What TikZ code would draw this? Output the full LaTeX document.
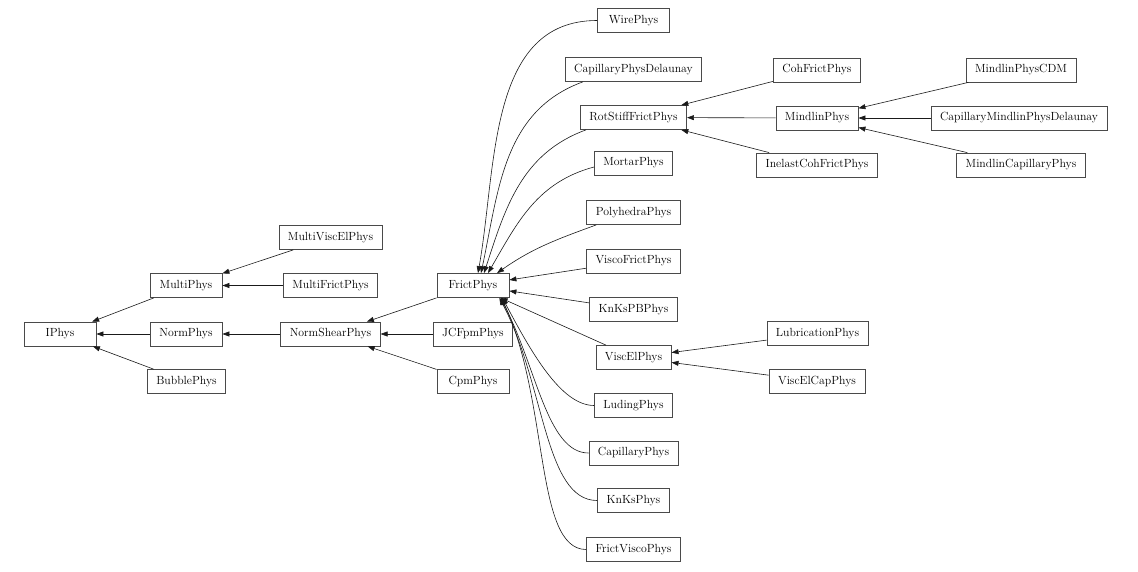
\documentclass[tikz,border=0pt]{standalone}
\usepackage{fontspec}
\usepackage{tikz}
\usetikzlibrary{arrows.meta}
\definecolor{boxline}{HTML}{4A4A4A}
\definecolor{edgeline}{HTML}{1A1A1A}
\tikzset{
  cls/.style={draw=boxline,line width=0.75pt,font=\fontsize{11.8}{14}\selectfont,minimum width=72pt,minimum height=24pt,inner xsep=9pt,inner ysep=0pt},
  inh/.style={-{Triangle[length=7pt,width=5pt]},line width=0.6pt,color=edgeline},
}
\begin{document}
\begin{tikzpicture}[x=1pt,y=1pt]
  \useasboundingbox (0,0) rectangle (1138,-572);
  % base classes
  \node[cls] (iphys) at (60,-334) {IPhys};
  \node[cls] (multi) at (186,-285.5) {MultiPhys};
  \node[cls] (norm) at (186,-334) {NormPhys};
  \node[cls] (bubble) at (186.5,-381.5) {BubblePhys};
  \node[cls] (mvisc) at (330.5,-237.5) {MultiViscElPhys};
  \node[cls] (mfrict) at (330.5,-285.5) {MultiFrictPhys};
  \node[cls] (nshear) at (330.5,-334) {NormShearPhys};
  \node[cls] (frict) at (473,-285.5) {FrictPhys};
  \node[cls] (jcfpm) at (473,-334) {JCFpmPhys};
  \node[cls] (cpm) at (473,-381.5) {CpmPhys};
  % children of FrictPhys
  \node[cls] (wire) at (633.5,-20.5) {WirePhys};
  \node[cls] (capdel) at (633.5,-69.5) {CapillaryPhysDelaunay};
  \node[cls] (rotstiff) at (633.5,-117.5) {RotStiffFrictPhys};
  \node[cls] (mortar) at (633.5,-163) {MortarPhys};
  \node[cls] (poly) at (633.5,-212.5) {PolyhedraPhys};
  \node[cls] (vfrict) at (633.5,-261) {ViscoFrictPhys};
  \node[cls] (knkspb) at (633.5,-309.5) {KnKsPBPhys};
  \node[cls] (viscel) at (633.5,-357.5) {ViscElPhys};
  \node[cls] (luding) at (633.5,-405.5) {LudingPhys};
  \node[cls] (cap) at (633.5,-453) {CapillaryPhys};
  \node[cls] (knks) at (633.5,-500.5) {KnKsPhys};
  \node[cls] (fvisco) at (633.5,-549.5) {FrictViscoPhys};
  % third level
  \node[cls] (coh) at (817,-70) {CohFrictPhys};
  \node[cls] (mindlin) at (817,-118) {MindlinPhys};
  \node[cls] (inelast) at (817,-165) {InelastCohFrictPhys};
  \node[cls] (lubr) at (817.5,-333.5) {LubricationPhys};
  \node[cls] (vecap) at (817,-381.5) {ViscElCapPhys};
  \node[cls] (mcdm) at (1021,-70) {MindlinPhysCDM};
  \node[cls] (cmdel) at (1019,-118) {CapillaryMindlinPhysDelaunay};
  \node[cls] (mcap) at (1021,-165) {MindlinCapillaryPhys};
  % straight edges
  \foreach \x/\y in {multi/iphys,norm/iphys,bubble/iphys,mvisc/multi,mfrict/multi,nshear/norm,frict/nshear,jcfpm/nshear,cpm/nshear,vfrict/frict,knkspb/frict,viscel/frict,coh/rotstiff,mindlin/rotstiff,inelast/rotstiff,mcdm/mindlin,cmdel/mindlin,mcap/mindlin,lubr/viscel,vecap/viscel}
    \draw[inh] (\x) -- (\y);
  % curved edges into FrictPhys
  \draw[inh] (wire.west) to[out=180,in=80] ([xshift=5]frict.north);
  \draw[inh] ([xshift=18]capdel.south west) to[out=200,in=78] ([xshift=8]frict.north);
  \draw[inh] ([xshift=6]rotstiff.south west) to[out=200,in=72] ([xshift=11]frict.north);
  \draw[inh] ([yshift=-4]mortar.west) to[out=195,in=60] ([xshift=15]frict.north);
  \draw[inh] ([xshift=10]poly.south west) to[out=200,in=35] ([xshift=24]frict.north);
  \draw[inh] (luding.west) to[out=180,in=-62,out looseness=0.6,in looseness=1.1] ([xshift=-7]frict.south east);
  \draw[inh] (cap.west) to[out=180,in=-62,out looseness=0.6,in looseness=1.1] ([xshift=-9]frict.south east);
  \draw[inh] (knks.west) to[out=180,in=-62,out looseness=0.6,in looseness=1.1] ([xshift=-10]frict.south east);
  \draw[inh] (fvisco.west) to[out=180,in=-65,out looseness=0.5,in looseness=1.1] ([xshift=-8]frict.south east);
\end{tikzpicture}
\end{document}
